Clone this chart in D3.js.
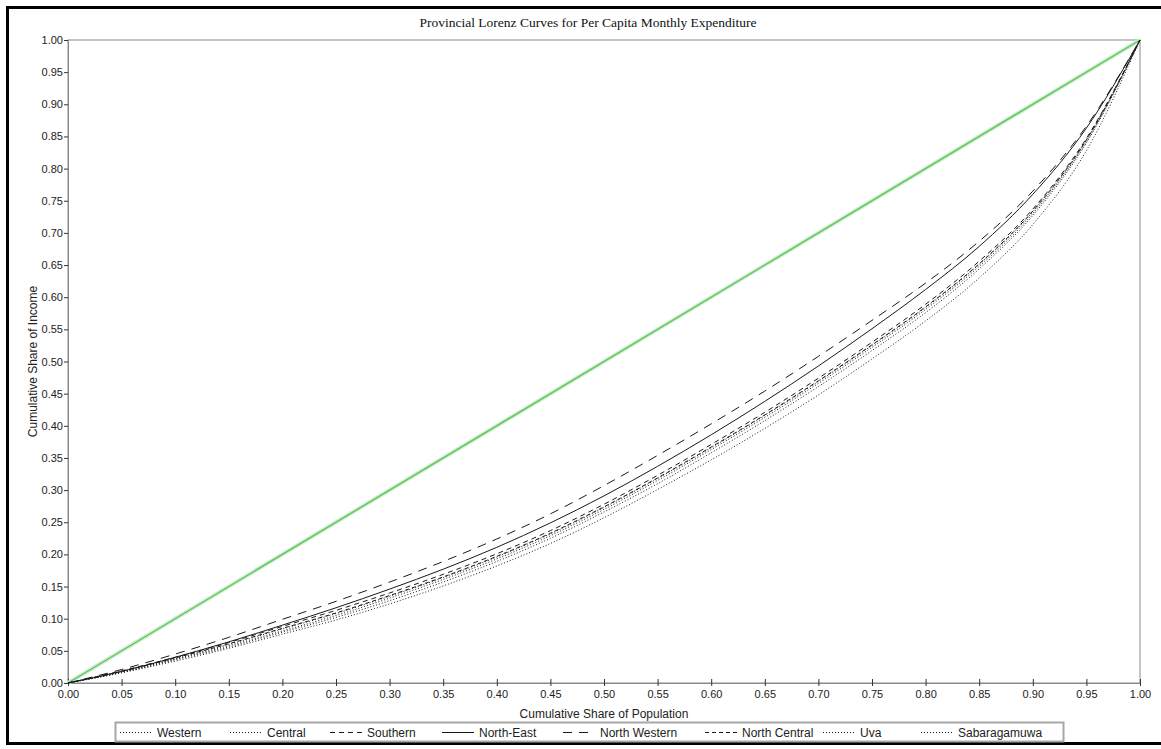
<!DOCTYPE html>
<html>
<head>
<meta charset="utf-8">
<script src="https://cdn.jsdelivr.net/npm/d3@7"></script>
<style>
  body { margin: 0; background: #fff; }
  svg { display: block; }
  .tick text { font-family: Arial, "Liberation Sans", sans-serif; font-size: 11px; fill: #222; }
</style>
</head>
<body>
<div id="chart"></div>
<script>
// chart values
var title = "Provincial Lorenz Curves for Per Capita Monthly Expenditure";
var xTitle = "Cumulative Share of Population";
var yTitle = "Cumulative Share of Income";
var tickValues = [0, 0.05, 0.10, 0.15, 0.20, 0.25, 0.30, 0.35, 0.40, 0.45, 0.50,
                  0.55, 0.60, 0.65, 0.70, 0.75, 0.80, 0.85, 0.90, 0.95, 1.00];

var popShare = [0, 0.05, 0.10, 0.15, 0.20, 0.25, 0.30, 0.35, 0.40, 0.45, 0.50,
                0.55, 0.60, 0.65, 0.70, 0.75, 0.80, 0.85, 0.90, 0.95, 1.00];

var provinces = ["Western", "Central", "Southern", "North-East", "North Western", "North Central", "Uva", "Sabaragamuwa"];

var western      = [0, .016, .034, .054, .076, .098, .123, .151, .182, .217, .257, .301, .347, .396, .448, .504, .563, .630, .713, .828, 1];
var central      = [0, .018, .038, .060, .084, .108, .135, .164, .196, .232, .273, .318, .366, .416, .469, .525, .584, .651, .733, .844, 1];
var southern     = [0, .019, .040, .063, .088, .113, .140, .169, .201, .237, .278, .323, .371, .421, .474, .530, .589, .656, .737, .847, 1];
var northEast    = [0, .018, .040, .064, .090, .117, .146, .177, .211, .249, .291, .337, .386, .438, .493, .551, .612, .679, .760, .863, 1];
var northWestern = [0, .021, .045, .071, .099, .127, .157, .189, .224, .263, .307, .354, .403, .454, .508, .564, .622, .687, .765, .866, 1];
var northCentral = [0, .018, .039, .061, .085, .109, .136, .165, .197, .233, .274, .319, .367, .417, .470, .526, .585, .652, .734, .845, 1];
var uva          = [0, .016, .036, .056, .079, .102, .128, .157, .189, .225, .266, .310, .358, .408, .461, .517, .576, .644, .727, .840, 1];
var sabaragamuwa = [0, .017, .037, .058, .081, .105, .132, .161, .193, .229, .270, .315, .363, .413, .466, .522, .581, .648, .730, .842, 1];

var seriesValues = [western, central, southern, northEast, northWestern, northCentral, uva, sabaragamuwa];
var dashes = ["1,2", "1,2", "5,4", null, "9,7", "4,3", "1,2", "1,2"];

var svgWidth = 1161;
var svgHeight = 749;
var margin = { top: 40, right: 21, bottom: 66, left: 68 };
var width = svgWidth - margin.left - margin.right;
var height = svgHeight - margin.top - margin.bottom;

var svg = d3.select("#chart")
  .append("svg")
  .attr("width", svgWidth)
  .attr("height", svgHeight);

// outer frame
svg.append("rect")
  .attr("x", 7.5).attr("y", 7.5)
  .attr("width", 1170).attr("height", 736)
  .attr("fill", "none")
  .attr("stroke", "#000")
  .attr("stroke-width", 3);

svg.append("text")
  .attr("x", 588).attr("y", 26.5)
  .attr("text-anchor", "middle")
  .attr("font-family", "'Liberation Serif', 'Times New Roman', serif")
  .attr("font-size", "13.5px")
  .attr("fill", "#111")
  .text(title);

var chartGroup = svg.append("g")
  .attr("transform", `translate(${margin.left}, ${margin.top})`);

var x = d3.scaleLinear().domain([0, 1]).range([0, width]);
var y = d3.scaleLinear().domain([0, 1]).range([height, 0]);

// plot frame
chartGroup.append("rect")
  .attr("x", 0).attr("y", 0)
  .attr("width", width).attr("height", height)
  .attr("fill", "none")
  .attr("stroke", "#8a8a8a")
  .attr("stroke-width", 1);

var fmt = d3.format(".2f");

var leftAxis = chartGroup.append("g")
  .call(d3.axisLeft(y).tickValues(tickValues).tickFormat(fmt).tickSize(4).tickPadding(1));
leftAxis.select(".domain").attr("stroke", "#8a8a8a");
leftAxis.selectAll(".tick line").attr("stroke", "#333");

var bottomAxis = chartGroup.append("g")
  .attr("transform", `translate(0, ${height})`)
  .call(d3.axisBottom(x).tickValues(tickValues).tickFormat(fmt).tickSize(3).tickPadding(4));
bottomAxis.select(".domain").attr("stroke", "#8a8a8a");
bottomAxis.selectAll(".tick line").attr("y1", -4).attr("stroke", "#333");

// axis titles
chartGroup.append("text")
  .attr("transform", "rotate(-90)")
  .attr("x", -height / 2)
  .attr("y", -31)
  .attr("text-anchor", "middle")
  .attr("font-family", "Arial, 'Liberation Sans', sans-serif")
  .attr("font-size", "12px")
  .attr("fill", "#222")
  .text(yTitle);

chartGroup.append("text")
  .attr("x", width / 2)
  .attr("y", height + 34.5)
  .attr("text-anchor", "middle")
  .attr("font-family", "Arial, 'Liberation Sans', sans-serif")
  .attr("font-size", "12px")
  .attr("fill", "#222")
  .text(xTitle);

// line of equality
chartGroup.append("line")
  .attr("x1", x(0)).attr("y1", y(0))
  .attr("x2", x(1)).attr("y2", y(1))
  .attr("stroke", "#cdeecd")
  .attr("stroke-width", 4);
chartGroup.append("line")
  .attr("x1", x(0)).attr("y1", y(0))
  .attr("x2", x(1)).attr("y2", y(1))
  .attr("stroke", "#5ec45e")
  .attr("stroke-width", 1.4);

// Lorenz curves
var line = d3.line()
  .x((d, i) => x(popShare[i]))
  .y(d => y(d))
  .curve(d3.curveMonotoneX);

chartGroup.selectAll(".curve")
  .data(seriesValues)
  .enter()
  .append("path")
  .attr("class", "curve")
  .attr("d", d => line(d))
  .attr("fill", "none")
  .attr("stroke", "#1a1a1a")
  .attr("stroke-width", 1)
  .attr("stroke-dasharray", (d, i) => dashes[i]);

// legend
var legendTextX = [157, 267, 367, 479, 600, 742, 860, 958];

var legend = svg.append("g");
legend.append("rect")
  .attr("x", 115.5).attr("y", 722.5)
  .attr("width", 948).attr("height", 19)
  .attr("fill", "#fff")
  .attr("stroke", "#a8a8a8")
  .attr("stroke-width", 2);

provinces.forEach(function(name, i) {
  var tx = legendTextX[i];
  legend.append("line")
    .attr("x1", tx - 37).attr("x2", tx - 5)
    .attr("y1", 732.5).attr("y2", 732.5)
    .attr("stroke", "#1a1a1a")
    .attr("stroke-width", 1)
    .attr("stroke-dasharray", dashes[i]);
  legend.append("text")
    .attr("x", tx)
    .attr("y", 736.5)
    .attr("font-family", "Arial, 'Liberation Sans', sans-serif")
    .attr("font-size", "12px")
    .attr("fill", "#222")
    .text(name);
});
</script>
</body>
</html>
